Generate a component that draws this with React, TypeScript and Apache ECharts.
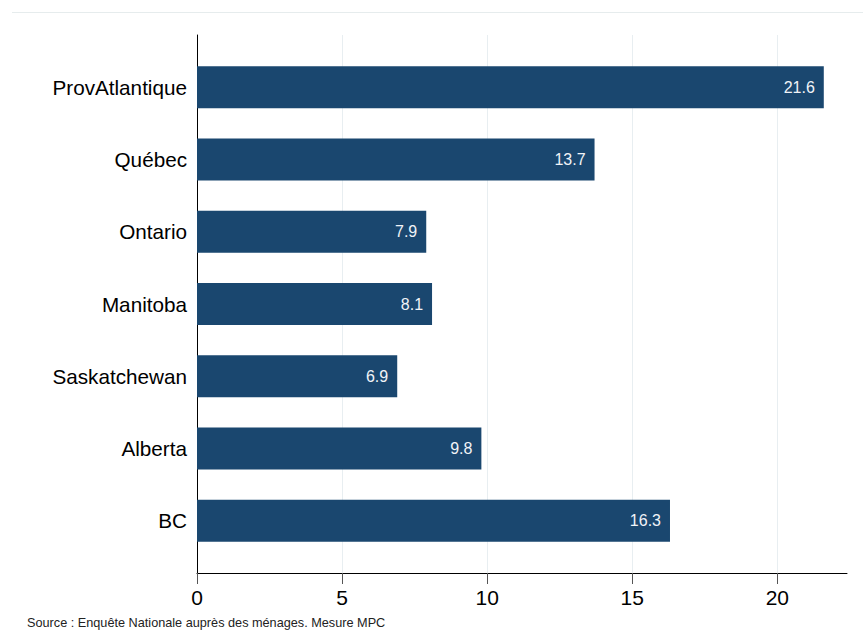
import React, { useEffect, useRef } from "react";
import * as echarts from "echarts";

const categories = ["ProvAtlantique", "Québec", "Ontario", "Manitoba", "Saskatchewan", "Alberta", "BC"];
const values = [21.6, 13.7, 7.9, 8.1, 6.9, 9.8, 16.3];
const xTicks = [0, 5, 10, 15, 20];
const sourceText = "Source : Enquête Nationale auprès des ménages. Mesure MPC";

const FONT = "Liberation Sans, Arial, sans-serif";

export default function App() {
  const ref = useRef<HTMLDivElement>(null);
  useEffect(() => {
    if (!ref.current) return;
    const chart = echarts.init(ref.current, null, { renderer: "svg" });
    chart.setOption({
      animation: false,
      backgroundColor: "#ffffff",
      textStyle: { fontFamily: FONT },
      graphic: [
        {
          type: "line",
          shape: { x1: 12, y1: 12.5, x2: 863, y2: 12.5 },
          style: { stroke: "#e6eced", lineWidth: 1 },
          silent: true,
        },
        {
          type: "text",
          left: 27,
          top: 616,
          style: { text: sourceText, fontSize: 12.7, fill: "#222222", fontFamily: FONT },
        },
      ],
      grid: [
        { left: 197, right: 16, top: 35, bottom: 60, containLabel: false },
        { left: 197, right: 16, top: 51, bottom: 76, containLabel: false },
      ],
      xAxis: [
        {
          gridIndex: 0,
          type: "value",
          min: 0,
          max: 22.4,
          interval: 5,
          axisLine: { show: true, onZero: false, lineStyle: { color: "#000000", width: 1 } },
          axisTick: { show: true, length: 11, lineStyle: { color: "#555555" }, customValues: xTicks },
          axisLabel: { customValues: xTicks, fontSize: 21, color: "#000000", margin: 14, fontFamily: FONT },
          splitLine: { show: true, lineStyle: { color: "#e8eef1", width: 1 } },
        },
        {
          gridIndex: 1,
          type: "value",
          min: 0,
          max: 22.4,
          show: false,
        },
      ],
      yAxis: [
        {
          gridIndex: 0,
          type: "value",
          min: 0,
          max: 1,
          axisLine: { show: true, onZero: false, lineStyle: { color: "#000000", width: 1 } },
          axisTick: { show: false },
          axisLabel: { show: false },
          splitLine: { show: false },
        },
        {
          gridIndex: 1,
          type: "category",
          data: categories,
          inverse: true,
          axisLine: { show: false },
          axisTick: { show: false },
          splitLine: { show: false },
          axisLabel: { fontSize: 20.7, color: "#000000", margin: 10, fontFamily: FONT },
        },
      ],
      series: [
        {
          type: "bar",
          xAxisIndex: 1,
          yAxisIndex: 1,
          data: values,
          barWidth: 42,
          itemStyle: { color: "#1a476f" },
          label: {
            show: true,
            position: "insideRight",
            distance: 9,
            formatter: (p: any) => Number(p.value).toFixed(1),
            color: "#f0f3f7",
            fontSize: 16,
            fontFamily: FONT,
          },
        },
      ],
    });
    return () => chart.dispose();
  }, []);
  return <div ref={ref} style={{ width: 863, height: 633, position: "absolute", left: 0, top: 0 }} />;
}
